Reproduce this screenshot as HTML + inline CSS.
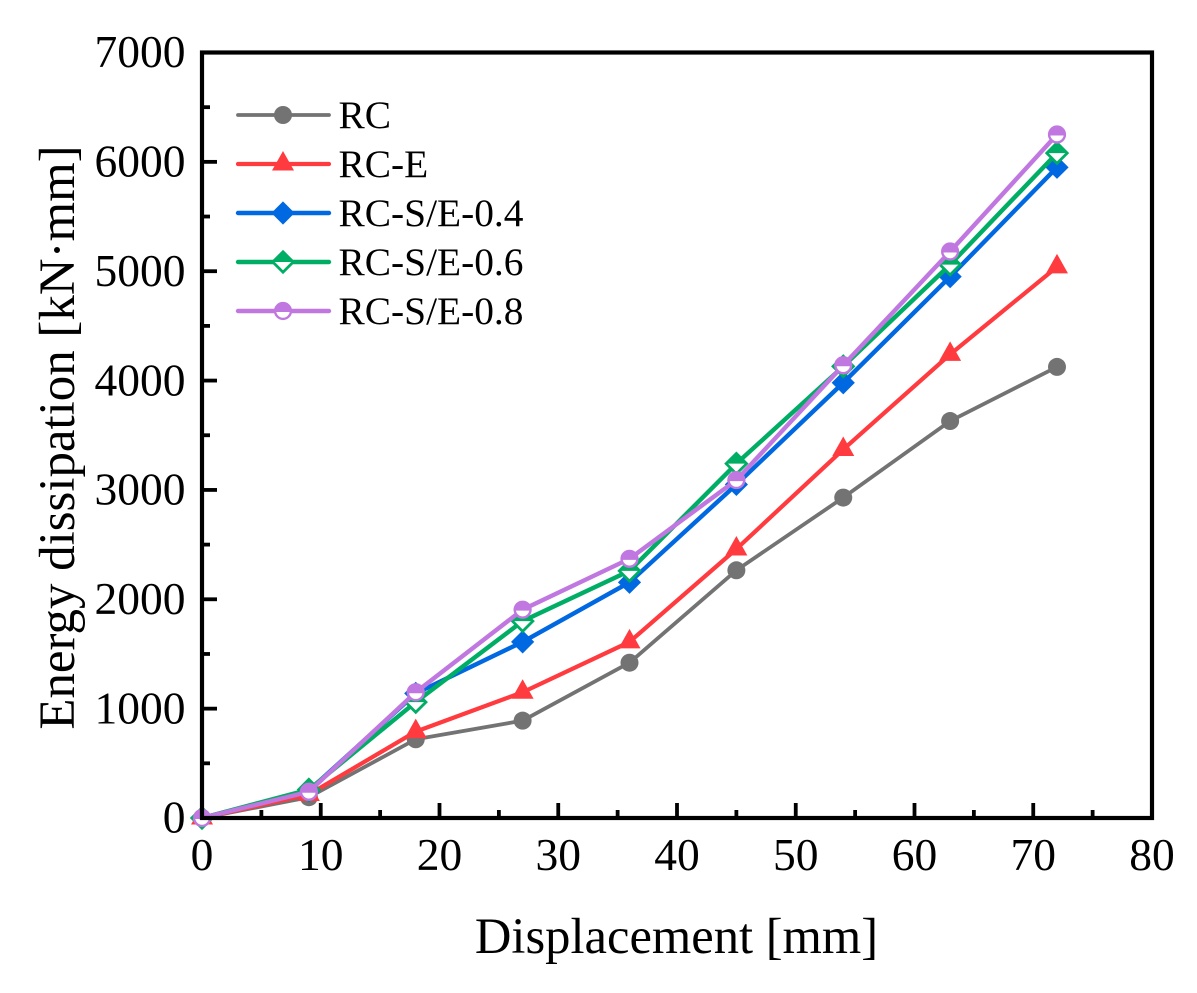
<!DOCTYPE html>
<html>
<head>
<meta charset="utf-8">
<title>Energy dissipation chart</title>
<style>
html,body{margin:0;padding:0;background:#fff;}
svg{display:block;font-family:"Liberation Serif",serif;fill:#000;}
</style>
</head>
<body>
<svg id="chart" xmlns="http://www.w3.org/2000/svg" width="1197" height="993" viewBox="0 0 1197 993"></svg>
<script>
const displacement = [0, 9, 18, 27, 36, 45, 54, 63, 72];
const seriesRC = [0, 190, 720, 890, 1420, 2265, 2930, 3630, 4125];
const seriesRCE = [0, 215, 790, 1150, 1610, 2460, 3370, 4240, 5040];
const seriesRCSE04 = [0, 250, 1140, 1610, 2155, 3050, 3980, 4950, 5950];
const seriesRCSE06 = [0, 260, 1060, 1800, 2260, 3240, 4130, 5060, 6080];
const seriesRCSE08 = [0, 240, 1150, 1905, 2370, 3090, 4140, 5180, 6250];
const seriesNames = ["RC", "RC-E", "RC-S/E-0.4", "RC-S/E-0.6", "RC-S/E-0.8"];
const xTicks = [0, 10, 20, 30, 40, 50, 60, 70, 80];
const yTicks = [0, 1000, 2000, 3000, 4000, 5000, 6000, 7000];
const xMinorTicks = [5, 15, 25, 35, 45, 55, 65, 75];
const yMinorTicks = [500, 1500, 2500, 3500, 4500, 5500, 6500];

const NS = "http://www.w3.org/2000/svg";
const svg = document.getElementById("chart");
const L = 202, R = 1152, T = 52.5, B = 818;
const xMax = 80, yMax = 7000;
function sx(v){ return L + (R - L) * v / xMax; }
function sy(v){ return B - (B - T) * v / yMax; }
function make(tag, attrs, parent){
  const el = document.createElementNS(NS, tag);
  for (const k in attrs) el.setAttribute(k, attrs[k]);
  (parent || svg).appendChild(el);
  return el;
}
const styles = [
  {color:"#737373", width:3.8, marker:"circle", half:false},
  {color:"#ff3b3f", width:4.2, marker:"triangle", half:false},
  {color:"#0068e0", width:4.4, marker:"diamond", half:false},
  {color:"#00ad65", width:4.4, marker:"diamond", half:true},
  {color:"#c078e0", width:4.4, marker:"circle", half:true}
];
function drawMarker(g, st, x, y){
  const c = st.color;
  if (st.marker === "circle") {
    if (st.half) {
      make("circle", {cx:x, cy:y, r:7.9, fill:"#fff", stroke:c, "stroke-width":2.4}, g);
      make("path", {d:`M${x-9} ${y+1}A9 9 0 0 1 ${x+9} ${y+1}Z`, fill:c}, g);
    } else {
      make("circle", {cx:x, cy:y, r:9, fill:c}, g);
    }
  } else if (st.marker === "triangle") {
    make("path", {d:`M${x} ${y-13}L${x+11} ${y+6.5}L${x-11} ${y+6.5}Z`, fill:c}, g);
  } else {
    if (st.half) {
      make("path", {d:`M${x} ${y-10.2}L${x+10.2} ${y}L${x} ${y+10.2}L${x-10.2} ${y}Z`, fill:"#fff", stroke:c, "stroke-width":2.8}, g);
      make("path", {d:`M${x} ${y-11.6}L${x+11.6} ${y}L${x-11.6} ${y}Z`, fill:c}, g);
    } else {
      make("path", {d:`M${x} ${y-11.6}L${x+11.6} ${y}L${x} ${y+11.6}L${x-11.6} ${y}Z`, fill:c}, g);
    }
  }
}

/* series */
const allSeries = [seriesRC, seriesRCE, seriesRCSE04, seriesRCSE06, seriesRCSE08];
allSeries.forEach((vals, i) => {
  const st = styles[i];
  const g = make("g", {});
  
  
  const pts = vals.map((v, j) => sx(displacement[j]).toFixed(2) + "," + sy(v).toFixed(2)).join(" ");
  const line = make("polyline", {points:pts, fill:"none", stroke:st.color, "stroke-width":st.width, "stroke-linejoin":"round"}, g);
  
  
  vals.forEach((v, j) => drawMarker(g, st, sx(displacement[j]), sy(v)));
});

/* axes frame */
const frame = make("rect", {x:L, y:T, width:R-L, height:B-T, fill:"none", stroke:"#000", "stroke-width":4.2});



/* ticks */
const xAxis = make("g", {});


xTicks.forEach(t => {
  if (t > 0 && t < xMax) make("line", {x1:sx(t), x2:sx(t), y1:B, y2:B-15, stroke:"#000", "stroke-width":3.8}, xAxis);
  const label = make("text", {x:sx(t), y:870, "text-anchor":"middle", "font-size":45.5}, xAxis);
  label.textContent = t;
  
  
});
xMinorTicks.forEach(t => make("line", {x1:sx(t), x2:sx(t), y1:B, y2:B-8, stroke:"#000", "stroke-width":3.8}, xAxis));

const yAxis = make("g", {});


yTicks.forEach(t => {
  if (t > 0 && t < yMax) make("line", {x1:L, x2:L+15, y1:sy(t), y2:sy(t), stroke:"#000", "stroke-width":3.8}, yAxis);
  const label = make("text", {x:185.5, y:sy(t)+14.7, "text-anchor":"end", "font-size":45.5}, yAxis);
  label.textContent = t;
  
  
});
yMinorTicks.forEach(t => make("line", {x1:L, x2:L+8, y1:sy(t), y2:sy(t), stroke:"#000", "stroke-width":3.8}, yAxis));

/* legend */
const legendRows = [115, 164, 213, 262, 311];
const legend = make("g", {});


seriesNames.forEach((name, i) => {
  const y = legendRows[i], st = styles[i];
  const row = make("g", {}, legend);
  
  
  make("line", {x1:238, x2:329, y1:y, y2:y, stroke:st.color, "stroke-width":st.width, "stroke-linecap":"round"}, row);
  drawMarker(row, st, 283, y);
  const label = make("text", {x:338.5, y:y+13, "font-size":39.4}, row);
  label.textContent = name;
});
</script>
<script>
(function(){
  const svgEl = document.getElementById("chart");
  const xt = document.createElementNS("http://www.w3.org/2000/svg", "text");
  xt.setAttribute("x", 676.5);
  xt.setAttribute("y", 953);
  xt.setAttribute("text-anchor", "middle");
  xt.setAttribute("font-size", 50.6);
  xt.textContent = "Displacement [mm]";
  
  
  svgEl.appendChild(xt);
  const yt = document.createElementNS("http://www.w3.org/2000/svg", "text");
  yt.setAttribute("transform", "translate(74 437.5) rotate(-90)");
  yt.setAttribute("text-anchor", "middle");
  yt.setAttribute("font-size", 50.9);
  yt.textContent = "Energy dissipation [kN·mm]";
  
  
  svgEl.appendChild(yt);
})();
</script>
</body>
</html>
